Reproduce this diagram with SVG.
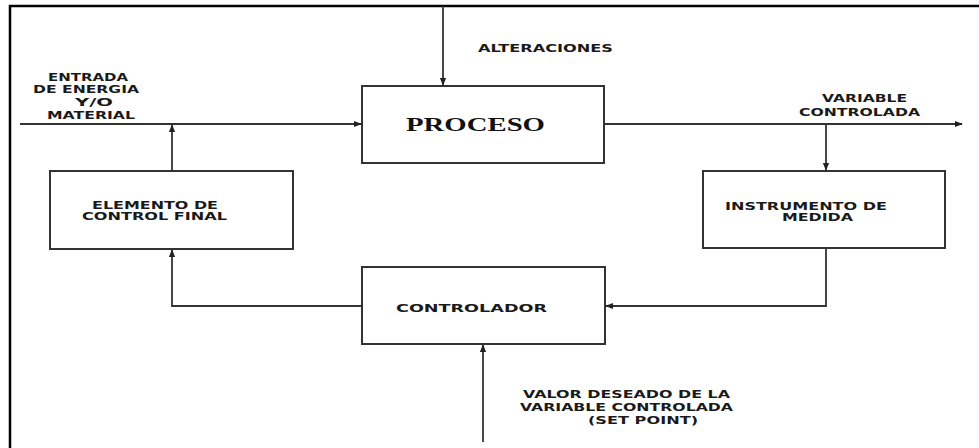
<svg xmlns="http://www.w3.org/2000/svg" width="979" height="448" viewBox="0 0 979 448">
<defs>
<style>
.box{fill:#fff;stroke:#333;stroke-width:2}
.ln{fill:none;stroke:#333;stroke-width:1.8}
.t{font-family:"DejaVu Sans",Verdana,sans-serif;font-weight:bold;font-size:10px;fill:#1a1a1a}
.p{font-family:"Liberation Serif","Times New Roman",serif;font-weight:bold;font-size:19px;fill:#111}
</style>
<marker id="ah2" viewBox="0 0 10 10" refX="9" refY="5" markerWidth="8" markerHeight="8" orient="auto" markerUnits="userSpaceOnUse">
<path d="M0,1 L10,5 L0,9 Z" fill="#222"/>
</marker>
</defs>
<rect width="979" height="448" fill="#fff"/>
<g id="frame">
<path d="M10,448 V6 H979" fill="none" stroke="#000" stroke-width="2.5"/>
</g>
<g id="connectors">
<line class="ln" x1="443" y1="6" x2="443" y2="85" marker-end="url(#ah2)"/>
<line class="ln" x1="20" y1="124" x2="361" y2="124" marker-end="url(#ah2)"/>
<line class="ln" x1="605" y1="124" x2="962" y2="124" marker-end="url(#ah2)"/>
<line class="ln" x1="826" y1="124" x2="826" y2="170" marker-end="url(#ah2)"/>
<line class="ln" x1="172" y1="171" x2="172" y2="125" marker-end="url(#ah2)"/>
<polyline class="ln" points="826,249 826,306 606,306" marker-end="url(#ah2)"/>
<polyline class="ln" points="361,306 172,306 172,250" marker-end="url(#ah2)"/>
<line class="ln" x1="483" y1="442" x2="483" y2="345" marker-end="url(#ah2)"/>
</g>
<g id="proceso">
<rect class="box" x="362" y="86" width="242" height="77"/>
<text class="p" x="406" y="131" textLength="139" lengthAdjust="spacingAndGlyphs">PROCESO</text>
</g>
<g id="elemento">
<rect class="box" x="50" y="171" width="243" height="78"/>
<text class="t" x="92" y="209" textLength="126" lengthAdjust="spacingAndGlyphs">ELEMENTO DE</text>
<text class="t" x="82" y="220" textLength="145" lengthAdjust="spacingAndGlyphs">CONTROL FINAL</text>
</g>
<g id="instrumento">
<rect class="box" x="703" y="171" width="242" height="77"/>
<text class="t" x="725" y="210" textLength="162" lengthAdjust="spacingAndGlyphs">INSTRUMENTO DE</text>
<text class="t" x="782" y="221" textLength="71" lengthAdjust="spacingAndGlyphs">MEDIDA</text>
</g>
<g id="controlador">
<rect class="box" x="362" y="267" width="243" height="77"/>
<text class="t" x="396" y="312" textLength="151" lengthAdjust="spacingAndGlyphs">CONTROLADOR</text>
</g>
<g id="labels">
<text class="t" x="48" y="81" textLength="80" lengthAdjust="spacingAndGlyphs">ENTRADA</text>
<text class="t" x="33" y="93" textLength="106" lengthAdjust="spacingAndGlyphs">DE ENERGIA</text>
<text class="t" x="75" y="106" textLength="38" lengthAdjust="spacingAndGlyphs">Y/O</text>
<text class="t" x="47" y="119" textLength="88" lengthAdjust="spacingAndGlyphs">MATERIAL</text>
<text class="t" x="478" y="52" textLength="135" lengthAdjust="spacingAndGlyphs">ALTERACIONES</text>
<text class="t" x="822" y="102" textLength="85" lengthAdjust="spacingAndGlyphs">VARIABLE</text>
<text class="t" x="799" y="116" textLength="121" lengthAdjust="spacingAndGlyphs">CONTROLADA</text>
<text class="t" x="523" y="398" textLength="207" lengthAdjust="spacingAndGlyphs">VALOR DESEADO DE LA</text>
<text class="t" x="520" y="411" textLength="213" lengthAdjust="spacingAndGlyphs">VARIABLE CONTROLADA</text>
<text class="t" x="588" y="424" textLength="110" lengthAdjust="spacingAndGlyphs">(SET POINT)</text>
</g>
</svg>
